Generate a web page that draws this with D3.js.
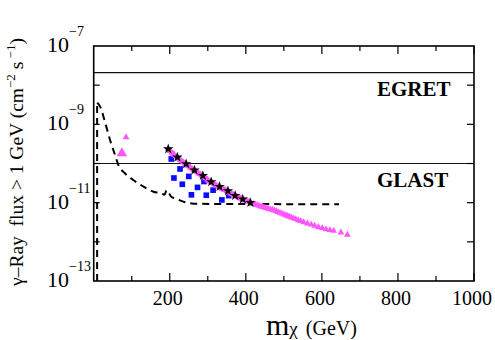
<!DOCTYPE html>
<html>
<head>
<meta charset="utf-8">
<script src="https://cdn.jsdelivr.net/npm/d3@7"></script>
<style>
  body { margin: 0; background: #fff; }
  svg text { font-family: "Liberation Serif", "Times New Roman", serif; fill: #000; }
</style>
</head>
<body>
<div id="chart"></div>
<script>
// flux values are log10 of the flux (cm^-2 s^-1), masses in GeV
let dashMass = [9, 9, 14, 21, 27, 34, 43, 56, 65, 82, 104, 131, 157, 179, 186, 192, 204, 214, 245, 274, 645];
let dashLog  = [-13, -8.45, -8.5, -8.65, -8.85, -9.09, -9.4, -9.78, -10.04, -10.25, -10.42, -10.59, -10.72, -10.76, -10.8, -10.68, -10.85, -10.89, -11.0, -11.03, -11.04];

let starMass = [196, 220, 243, 265, 287, 309, 331, 353, 372, 392, 412];
let starLog  = [-9.63, -9.84, -10.01, -10.17, -10.31, -10.47, -10.59, -10.70, -10.82, -10.91, -11.00];

let sqMass = [204, 227, 211, 250, 233, 273, 290, 257, 296, 314, 337, 355];
let sqLog  = [-9.885, -10.14, -10.37, -10.33, -10.53, -10.61, -10.46, -10.8, -10.81, -10.68, -10.93, -10.82];

let triMass = [196, 201, 205, 209, 212, 216, 220, 224, 228, 232, 236, 240, 243, 247, 250, 254, 258, 262, 265, 269,
               272, 276, 280, 284, 287, 291, 295, 299, 302, 306, 309, 313, 317, 321, 324, 328, 331, 335, 339, 343,
               346, 350, 353, 357, 361, 364, 367, 370, 372, 376, 380, 383, 386, 389, 392, 396, 400, 403, 406, 410,
               415, 420, 425, 430, 435, 440, 445, 450, 455, 460, 465, 470, 475, 480, 485, 490, 495, 500, 505, 510,
               515, 520, 525, 531, 538, 545, 552, 562, 572, 581, 591, 601, 611, 621, 631, 650, 667];
let triLog  = [-9.63, -9.68, -9.72, -9.75, -9.78, -9.81, -9.84, -9.88, -9.91, -9.94, -9.97, -10.0, -10.02, -10.05, -10.07, -10.10, -10.13, -10.16, -10.18, -10.2,
               -10.22, -10.25, -10.27, -10.3, -10.32, -10.35, -10.38, -10.41, -10.44, -10.46, -10.48, -10.5, -10.53, -10.55, -10.57, -10.59, -10.61, -10.63, -10.65, -10.67,
               -10.68, -10.7, -10.71, -10.74, -10.76, -10.78, -10.8, -10.81, -10.82, -10.84, -10.86, -10.88, -10.89, -10.9, -10.92, -10.94, -10.95, -10.96, -10.97, -10.99,
               -11.02, -11.03, -11.05, -11.06, -11.08, -11.1, -11.11, -11.13, -11.14, -11.16, -11.17, -11.18, -11.2, -11.22, -11.24, -11.26, -11.28, -11.3, -11.32, -11.34,
               -11.36, -11.38, -11.4, -11.42, -11.45, -11.47, -11.5, -11.53, -11.56, -11.59, -11.62, -11.65, -11.68, -11.7, -11.72, -11.76, -11.82];

// the two odd points at low mass (the first is drawn big)
let lowTriMass = [74, 85];
let lowTriLog  = [-9.74, -9.33];

let limName = ['EGRET', 'GLAST'];
let limFlux = [2.1e-8, 1e-10];

let xMinor = [100, 300, 500, 700, 900];
let xMajor = [200, 400, 600, 800, 1000];
let yTicks = [1e-12, 1e-11, 1e-10, 1e-9, 1e-8];
let yLabExp = [-7, -9, -11, -13];

const W = 495, H = 340;
const L = 93.7, R = 474, T = 46, B = 281;

let svg = d3.select('#chart').append('svg')
    .attr('width', W).attr('height', H);

let x = d3.scaleLinear().domain([0, 1000]).range([L, R]);
let y = d3.scaleLog().domain([1e-13, 1e-7]).range([B, T]);

let dashPts = dashMass.map((m, i) => [m, Math.pow(10, dashLog[i])]);
let starPts = starMass.map((m, i) => [m, Math.pow(10, starLog[i])]);
let sqPts = sqMass.map((m, i) => [m, Math.pow(10, sqLog[i])]);
let triPts = triMass.map((m, i) => [m, Math.pow(10, triLog[i])]);
let lowPts = lowTriMass.map((m, i) => [m, Math.pow(10, lowTriLog[i])]);

// limit lines
svg.selectAll('.lim').data(limFlux).enter().append('line')
    .attr('x1', L).attr('x2', R)
    .attr('y1', d => y(d)).attr('y2', d => y(d))
    .attr('stroke', '#111').attr('stroke-width', 1.2);

svg.selectAll('.limlab').data(limName).enter().append('text')
    .attr('x', 377)
    .attr('y', (d, i) => y(limFlux[i]) + 23)
    .attr('font-size', 21).attr('font-weight', 'bold')
    .text(d => d);

// dashed curve
svg.append('path')
    .attr('d', d3.line().curve(d3.curveMonotoneX).x(d => x(d[0])).y(d => y(d[1]))(dashPts.slice(1)))
    .attr('fill', 'none').attr('stroke', '#000')
    .attr('stroke-width', 2).attr('stroke-dasharray', '7,5');
svg.append('path')
    .attr('d', d3.line().x(d => x(d[0])).y(d => y(d[1]))(dashPts.slice(0, 2)))
    .attr('fill', 'none').attr('stroke', '#000')
    .attr('stroke-width', 2).attr('stroke-dasharray', '7,5');

// blue squares
svg.selectAll('.sq').data(sqPts).enter().append('path')
    .attr('transform', d => 'translate(' + x(d[0]) + ',' + y(d[1]) + ')')
    .attr('d', d3.symbol(d3.symbolSquare, 32))
    .attr('fill', '#0a0aff');

// magenta triangles
svg.selectAll('.tri').data(triPts).enter().append('path')
    .attr('transform', d => 'translate(' + x(d[0]) + ',' + y(d[1]) + ')')
    .attr('d', d3.symbol(d3.symbolTriangle, 20))
    .attr('fill', '#ff55ff');

svg.selectAll('.lowtri').data(lowPts).enter().append('path')
    .attr('transform', d => 'translate(' + x(d[0]) + ',' + y(d[1]) + ')')
    .attr('d', (d, i) => d3.symbol(d3.symbolTriangle, i == 0 ? 48 : 20)())
    .attr('fill', '#ff55ff');

// stars
svg.selectAll('.star').data(starPts).enter().append('path')
    .attr('transform', d => 'translate(' + x(d[0]) + ',' + y(d[1]) + ')')
    .attr('d', d3.symbol(d3.symbolStar, 34))
    .attr('fill', '#000');

// ticks (all inward)
let gx = svg.append('g');
function xTicks(vals, len) {
    gx.selectAll(null).data(vals).enter().append('line')
        .attr('x1', d => x(d)).attr('x2', d => x(d))
        .attr('y1', B).attr('y2', B - len)
        .attr('stroke', '#000').attr('stroke-width', 1.2);
    gx.selectAll(null).data(vals).enter().append('line')
        .attr('x1', d => x(d)).attr('x2', d => x(d))
        .attr('y1', T).attr('y2', T + len)
        .attr('stroke', '#000').attr('stroke-width', 1.2);
}
xTicks(xMinor, 5);
xTicks(xMajor, 8);

gx.selectAll('.yt').data(yTicks).enter().append('line')
    .attr('x1', L).attr('x2', L + 6)
    .attr('y1', d => y(d)).attr('y2', d => y(d))
    .attr('stroke', '#000').attr('stroke-width', 1.2);
gx.selectAll('.yt2').data(yTicks).enter().append('line')
    .attr('x1', R).attr('x2', R - 7)
    .attr('y1', d => y(d)).attr('y2', d => y(d))
    .attr('stroke', '#000').attr('stroke-width', 1.2);

// frame
svg.append('rect')
    .attr('x', L).attr('y', T).attr('width', R - L).attr('height', B - T)
    .attr('fill', 'none').attr('stroke', '#000').attr('stroke-width', 1.6);

// tick labels
svg.selectAll('.xl').data(xMajor).enter().append('text')
    .attr('x', d => x(d) - 2).attr('y', 305)
    .attr('text-anchor', 'middle').attr('font-size', 20)
    .text(d => d);

let yl = svg.selectAll('.yl').data(yLabExp).enter().append('text')
    .attr('x', 47).attr('y', d => y(Math.pow(10, d)) + 6)
    .attr('font-size', 22);
yl.append('tspan').text('10');
yl.append('tspan').attr('font-size', 14).attr('dy', -16).text(d => '\u2212' + Math.abs(d));

// axis titles
let xt = svg.append('text').attr('x', 266).attr('y', 335);
xt.append('tspan').attr('font-size', 30).text('m');
xt.append('tspan').attr('font-size', 19).text('\u03c7');
xt.append('tspan').attr('font-size', 20).attr('dx', 8).text('(GeV)');

let yt = svg.append('text')
    .attr('transform', 'translate(23,162) rotate(-90)')
    .attr('text-anchor', 'middle').attr('font-size', 19.5);
yt.append('tspan').text('\u03b3\u2013Ray\u00a0\u00a0flux > 1 GeV (cm');
yt.append('tspan').attr('font-size', 13).attr('dy', -8).text('\u22122');
yt.append('tspan').attr('dy', 8).text('\u00a0s');
yt.append('tspan').attr('font-size', 13).attr('dy', -8).text('\u00a0\u22121');
yt.append('tspan').attr('dy', 8).text(')');
</script>
</body>
</html>
